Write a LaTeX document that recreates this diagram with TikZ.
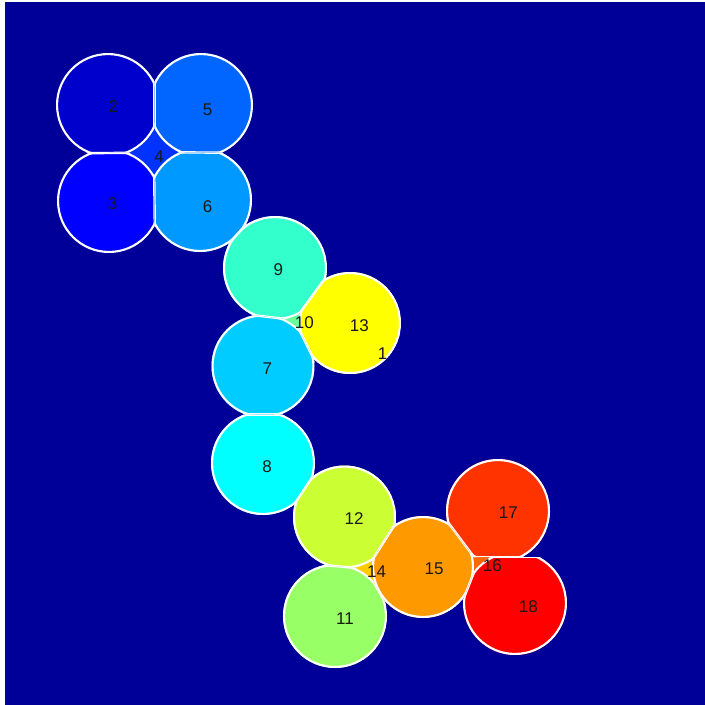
\documentclass[tikz,border=0pt]{standalone}
\usepackage{fontspec}
\setmainfont{Liberation Sans}
\usetikzlibrary{calc}
\definecolor{k1}{HTML}{000099}
\definecolor{k2}{HTML}{0000CC}
\definecolor{k3}{HTML}{0000FF}
\definecolor{k4}{HTML}{0033FF}
\definecolor{k5}{HTML}{0066FF}
\definecolor{k6}{HTML}{0099FF}
\definecolor{k7}{HTML}{00CCFF}
\definecolor{k8}{HTML}{00FFFF}
\definecolor{k9}{HTML}{33FFCC}
\definecolor{k10}{HTML}{66FF99}
\definecolor{k11}{HTML}{99FF66}
\definecolor{k12}{HTML}{CCFF33}
\definecolor{k13}{HTML}{FFFF00}
\definecolor{k14}{HTML}{FFCC00}
\definecolor{k15}{HTML}{FF9900}
\definecolor{k16}{HTML}{FF6600}
\definecolor{k17}{HTML}{FF3300}
\definecolor{k18}{HTML}{FF0000}
\tikzset{
  rim/.style={draw=white, line width=4.2pt},
  sepline/.style={draw=white, line width=2.4pt},
  lab/.style={inner sep=0pt, text=black!90, font=\fontsize{17}{17}\selectfont},
}
% clip to the half-plane on the side of #1, bounded by the perpendicular bisector of #1 and #2
\newcommand\hp[2]{\clip ($(#1)!0.5!(#2)!800pt!90:(#2)$) -- ($(#1)!0.5!(#2)!800pt!-90:(#2)$) -- ($(#1)!0.5!(#2)!800pt!180:(#2)$) -- cycle;}
\newcommand\bl[2]{\draw[sepline] ($(#1)!0.5!(#2)!200pt!90:(#2)$) -- ($(#1)!0.5!(#2)!200pt!-90:(#2)$);}
\newcommand\reg[5]{\begin{scope}\clip (#1) circle (#2pt); #4 \fill[#3] (#1) circle (#2pt); \draw[rim] (#1) circle (#2pt); #5\end{scope}}
\begin{document}
\begin{tikzpicture}[x=1pt,y=-1pt]
\useasboundingbox (0,0) rectangle (705,705);
\fill[white] (0,0) rectangle (705,705);
\fill[k1] (5,2) rectangle (705,705);
% centres
\coordinate (c2) at (108,105);
\coordinate (c5) at (201,105);
\coordinate (c3) at (109,201);
\coordinate (c6) at (200,200);
\coordinate (c9) at (275,268);
\coordinate (c13) at (350,323);
\coordinate (c7) at (263,366);
\coordinate (c8) at (263,463);
\coordinate (c12) at (344.5,517);
\coordinate (c11) at (335,616);
\coordinate (c15) at (423,567);
\coordinate (c17) at (498,511);
\coordinate (c18) at (515,603);
\coordinate (u17) at (500,507);
\coordinate (u18) at (500,607);
% small gap regions
\fill[k4] (154.5,126) -- (183,153) -- (154.5,178) -- (126,153) -- cycle;
\fill[k10] (279,318) -- (302,310) -- (302,335) -- cycle;
\fill[k14] (350,568) -- (374,557) -- (378,590) -- cycle;
\fill[k16] (471,553) -- (495,555) -- (471,576) -- cycle;
% circular regions
\reg{c2}{52}{k2}{\hp{c2}{c5}\hp{c2}{c3}}{\bl{c2}{c5}\bl{c2}{c3}}
\reg{c5}{52}{k5}{\hp{c5}{c2}\hp{c5}{c6}}{\bl{c5}{c2}\bl{c5}{c6}}
\reg{c3}{52}{k3}{\hp{c3}{c2}\hp{c3}{c6}}{\bl{c3}{c2}\bl{c3}{c6}}
\reg{c6}{52}{k6}{\hp{c6}{c5}\hp{c6}{c3}\hp{c6}{c9}}{\bl{c6}{c5}\bl{c6}{c3}\bl{c6}{c9}}
\reg{c9}{52}{k9}{\hp{c9}{c6}\hp{c9}{c13}\hp{c9}{c7}}{\bl{c9}{c6}\bl{c9}{c13}\bl{c9}{c7}}
\reg{c13}{51}{k13}{\hp{c13}{c9}\hp{c13}{c7}}{\bl{c13}{c9}\bl{c13}{c7}}
\reg{c7}{51.5}{k7}{\hp{c7}{c9}\hp{c7}{c13}\hp{c7}{c8}}{\bl{c7}{c9}\bl{c7}{c13}\bl{c7}{c8}}
\reg{c8}{52}{k8}{\hp{c8}{c7}\hp{c8}{c12}}{\bl{c8}{c7}\bl{c8}{c12}}
\reg{c12}{51.5}{k12}{\hp{c12}{c8}\hp{c12}{c11}\hp{c12}{c15}}{\bl{c12}{c8}\bl{c12}{c11}\bl{c12}{c15}}
\reg{c11}{52}{k11}{\hp{c11}{c12}\hp{c11}{c15}}{\bl{c11}{c12}\bl{c11}{c15}}
\reg{c15}{51}{k15}{\hp{c15}{c12}\hp{c15}{c11}\hp{c15}{c17}\hp{c15}{c18}}{\bl{c15}{c12}\bl{c15}{c11}\bl{c15}{c17}\bl{c15}{c18}}
\reg{c17}{52}{k17}{\hp{c17}{c15}\hp{u17}{u18}}{\bl{c17}{c15}\bl{u17}{u18}}
\reg{c18}{52}{k18}{\hp{c18}{c15}\hp{u18}{u17}}{\bl{c18}{c15}\bl{u18}{u17}}
% labels
\node[lab] (l1) at (382.5,353.5) {1};
\node[lab] (l2) at (113,107) {2};
\node[lab] (l3) at (112.7,204) {3};
\node[lab] (l4) at (159,156.7) {4};
\node[lab] (l5) at (207.7,109.3) {5};
\node[lab] (l6) at (207.7,206.7) {6};
\node[lab] (l7) at (267.3,368.3) {7};
\node[lab] (l8) at (267,467) {8};
\node[lab] (l9) at (278.3,270) {9};
\node[lab] (l10) at (304.3,322.7) {10};
\node[lab] (l11) at (345,618.3) {11};
\node[lab] (l12) at (354,518.3) {12};
\node[lab] (l13) at (359.3,326) {13};
\node[lab] (l14) at (376.7,571.7) {14};
\node[lab] (l15) at (434,568.3) {15};
\node[lab] (l16) at (492.3,566) {16};
\node[lab] (l17) at (508.3,512.7) {17};
\node[lab] (l18) at (528.3,606.7) {18};
\end{tikzpicture}
\end{document}
